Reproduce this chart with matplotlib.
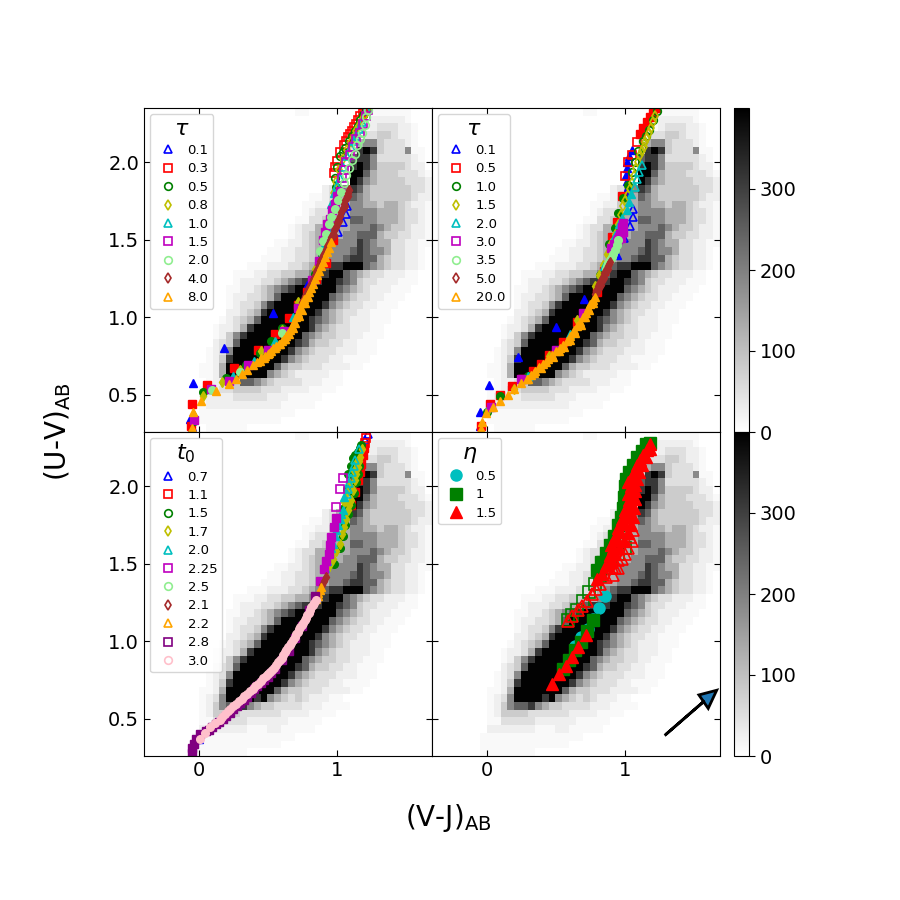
import numpy as np
from matplotlib import pyplot as plt

# density map, one string per row (top to bottom), digit = shade step
shade_counts = [0, 10, 25, 50, 80, 125, 185, 245, 310, 395]

rows_common = [
    "0000000000 0000000000 0011000000 0001111110 00",
    "0000000000 0000000000 0000000000 0002222210 00",
    "0000000000 0000000000 0000000000 0012333221 00",
    "0000000000 0000000000 0000000000 0033443221 00",
    "0000000000 0000000000 0000000000 2566433321 00",
    "0000000000 0000000000 0000000000 3898433361 10",
    "0000000000 0000000000 0000000000 7886333332 10",
    "0000000000 0000000000 0000000000 8986444432 20",
    "0000000000 0000000000 0000000000 9975444333 21",
    "0000000000 0000000000 0000000000 9865444433 32",
    "0000000000 0000000000 0000002356 8754444443 32",
    "0000000000 0000000000 0000112345 7654444443 22",
    "0000000000 0000000000 0001122445 6655455432 21",
    "0000000000 0000000000 0001233455 6666555433 21",
    "0000000000 0000000000 0011334555 7766555433 21",
    "0000000000 0000000000 0123355555 6667654432 21",
    "0000000000 0000000000 0123455556 6777544332 21",
    "0000000000 0000000001 1223455666 6876553322 11",
    "0000000000 0000000011 2233455666 7876653322 10",
    "0000000000 0000000111 2233455667 8877543322 10",
    "0000000000 0000011122 2334567889 9976543322 10",
    "0000000000 0001112233 4455678997 6543322211 00",
    "0000000000 0001222334 5678889987 6433222111 00",
    "0000000000 0011223456 7899999976 5432221110 00",
    "0000000000 0012233457 9999999765 4332211100 00",
    "0000000000 0012334689 9999998654 3322111000 00",
    "0000000000 0022345899 9999986543 3221110000 00",
    "0000000000 0123457999 9999876543 2221110000 00",
    "0000000000 1223589999 9999865433 2221100000 00",
    "0000000000 1246899999 9997654433 2211100000 00",
    "0000000000 2347999999 9987544332 2111000000 00",
    "0000000001 2369999999 9865433322 2111000000 00",
    "0000000001 2489999999 8654333221 1110000000 00",
    "0000000011 2599999997 5443332222 1100000000 00",
]
rows_upper_tail = [
    "0000000011 2599999965 4322222110 0000000000 00",
    "0000000001 2234776543 3332221110 0000000000 00",
    "0000000011 2334444333 2222111100 0000000000 00",
    "0000000012 2223333322 2111110000 0000000000 00",
    "0000000012 2222222222 1111100000 0000000000 00",
    "0000000011 1111111111 1100000000 0000000000 00",
    "0000000011 1111111111 0000000000 0000000000 00",
    "0000000001 1111100000 0000000000 0000000000 00",
]
rows_lower_tail = [
    "0000000012 3699998965 4343222110 0000000000 00",
    "0000000012 4677865443 3332221111 0000000000 00",
    "0000000012 4444333333 2222111100 0000000000 00",
    "0000000011 3333322222 2111110000 0000000000 00",
    "0000000022 2222211122 1111100000 0000000000 00",
    "0000000111 1111111111 1100000000 0000000000 00",
    "0000000111 1111111111 0000000000 0000000000 00",
    "0000000111 1111100000 0000000000 0000000000 00",
]

# panel 1, tau
p1_01_fill = [(-0.05, 0.29), (-0.065, 0.346), (-0.04, 0.576), (0.18, 0.80), (0.54, 1.03), (0.78, 1.21), (0.89, 1.37)]
p1_01_open = [(1.007, 1.55), (1.043, 1.615), (1.065, 1.665), (1.073, 1.716), (1.20, 2.33), (1.22, 2.35)]
p1_03_fill = [(-0.053, 0.297), (-0.046, 0.443), (0.06, 0.561), (0.253, 0.675), (0.429, 0.787), (0.554, 0.895),
              (0.653, 0.998), (0.72, 1.08), (0.78, 1.16), (0.85, 1.25), (0.923, 1.35), (0.971, 1.497)]
p1_03_open = [(0.98, 1.93), (0.985, 1.97), (1.0, 2.01), (1.02, 2.066), (1.05, 2.11), (1.065, 2.135), (1.08, 2.16), (1.095, 2.18),
              (1.11, 2.2), (1.125, 2.225), (1.14, 2.25), (1.155, 2.275), (1.17, 2.3), (1.185, 2.32), (1.2, 2.34)]
p1_05_fill = [(-0.03, 0.33), (0.033, 0.52), (0.195, 0.606), (0.34, 0.69), (0.44, 0.77), (0.526, 0.847), (0.60, 0.93), (0.72, 1.08),
              (0.84, 1.28), (0.89, 1.40), (0.94, 1.55), (0.97, 1.72), (0.99, 1.84)]
p1_05_open = [(0.985, 1.90), (1.0, 1.97), (1.02, 2.04), (1.04, 2.065), (1.06, 2.09), (1.09, 2.14), (1.11, 2.17), (1.13, 2.2),
              (1.15, 2.235), (1.17, 2.27), (1.19, 2.305), (1.21, 2.34)]
p1_08_fill = [(-0.03, 0.36), (0.03, 0.49), (0.17, 0.58), (0.30, 0.66), (0.45, 0.78), (0.6, 0.92), (0.72, 1.10),
              (0.84, 1.31), (0.89, 1.43), (0.93, 1.55), (0.95, 1.65), (0.97, 1.74)]
p1_08_open = [(0.98, 1.80), (0.995, 1.87), (1.015, 1.95), (1.04, 2.02), (1.07, 2.08), (1.10, 2.13), (1.12, 2.165), (1.14, 2.2),
              (1.16, 2.235), (1.18, 2.27), (1.20, 2.305), (1.22, 2.34)]
p1_10_fill = [(-0.03, 0.37), (0.1, 0.54), (0.25, 0.62), (0.4, 0.72), (0.55, 0.85), (0.68, 1.0), (0.78, 1.17),
              (0.88, 1.38), (0.91, 1.48), (0.94, 1.58), (0.95, 1.66), (0.96, 1.73), (0.98, 1.8)]
p1_10_open = [(1.0, 1.85), (1.02, 1.9), (1.04, 1.97), (1.07, 2.04), (1.10, 2.1), (1.12, 2.135), (1.14, 2.17), (1.16, 2.215), (1.18, 2.26), (1.22, 2.34)]
p1_15_fill = [(-0.035, 0.34), (0.09, 0.54), (0.22, 0.59), (0.36, 0.69), (0.5, 0.79), (0.62, 0.91), (0.72, 1.06),
              (0.82, 1.24), (0.87, 1.36), (0.90, 1.497), (0.911, 1.55), (0.93, 1.6), (0.947, 1.637), (0.965, 1.69),
              (0.983, 1.733), (1.0, 1.78), (1.02, 1.815)]
p1_15_open = [(1.035, 1.90), (1.05, 1.95), (1.068, 2.0), (1.097, 2.045), (1.116, 2.10), (1.14, 2.15), (1.164, 2.19), (1.188, 2.25),
              (1.21, 2.30), (1.225, 2.34)]
p1_20_fill = [(0.1, 0.53), (0.3, 0.65), (0.6, 0.9), (0.875, 1.43), (0.90, 1.49), (0.92, 1.54), (0.94, 1.60), (0.96, 1.647), (0.985, 1.70),
              (1.006, 1.755), (1.03, 1.81)]
p1_20_open = [(1.048, 1.867), (1.068, 1.916), (1.087, 1.961), (1.106, 2.013), (1.128, 2.056), (1.145, 2.11),
              (1.164, 2.15), (1.184, 2.19), (1.2, 2.24), (1.213, 2.29), (1.225, 2.34)]
p1_40_fill = [(0.75, 1.10), (0.76, 1.12), (0.77, 1.14), (0.78, 1.16), (0.79, 1.18), (0.80, 1.195), (0.81, 1.21), (0.82, 1.23), (0.83, 1.25),
              (0.84, 1.275), (0.85, 1.30), (0.86, 1.32), (0.87, 1.34), (0.88, 1.36), (0.89, 1.38), (0.90, 1.40), (0.91, 1.42), (0.92, 1.44),
              (0.93, 1.46), (0.94, 1.48), (0.95, 1.50), (0.96, 1.52), (0.97, 1.54), (0.98, 1.56), (0.99, 1.58), (1.0, 1.605), (1.01, 1.63),
              (1.02, 1.655), (1.03, 1.68), (1.04, 1.705), (1.05, 1.73), (1.06, 1.755), (1.07, 1.78), (1.08, 1.80), (1.09, 1.82),
              (0.775, 1.13), (0.815, 1.20), (0.855, 1.28), (0.895, 1.37), (0.935, 1.45), (0.975, 1.53), (1.015, 1.62), (1.055, 1.72), (1.08, 1.78)]
p1_80_fill = [(-0.048, 0.284), (-0.041, 0.39), (0.014, 0.46), (0.123, 0.525), (0.219, 0.572), (0.27, 0.605),
              (0.31, 0.635), (0.35, 0.66), (0.39, 0.69), (0.42, 0.71), (0.45, 0.735), (0.48, 0.75), (0.50, 0.765),
              (0.52, 0.785), (0.54, 0.80), (0.56, 0.815), (0.58, 0.83), (0.60, 0.845), (0.615, 0.86), (0.63, 0.88),
              (0.645, 0.90), (0.66, 0.92), (0.675, 0.945), (0.69, 0.97), (0.705, 1.00), (0.72, 1.03), (0.735, 1.06),
              (0.75, 1.09), (0.765, 1.115), (0.78, 1.14), (0.795, 1.165), (0.81, 1.19), (0.825, 1.215), (0.84, 1.245),
              (0.855, 1.27), (0.87, 1.30), (0.885, 1.33), (0.90, 1.355), (0.915, 1.39), (0.93, 1.42), (0.945, 1.45),
              (0.96, 1.485),
              (0.44, 0.715), (0.47, 0.74), (0.51, 0.77), (0.55, 0.80), (0.59, 0.83), (0.625, 0.86), (0.655, 0.895), (0.68, 0.93),
              (0.70, 0.965), (0.725, 1.01), (0.745, 1.05), (0.77, 1.09), (0.79, 1.13)]

# panel 2, tau
p2_01_fill = [(-0.045, 0.30), (-0.048, 0.39), (0.019, 0.56), (0.229, 0.742), (0.503, 0.938), (0.704, 1.12), (0.94, 1.40),
              (1.03, 1.80), (1.02, 1.84), (1.015, 1.88), (1.01, 1.92), (1.012, 1.96), (1.018, 2.0), (1.03, 2.04), (1.05, 2.08)]
p2_01_open = [(0.993, 1.51), (1.034, 1.59), (1.056, 1.65), (1.06, 1.70)]
p2_05_fill = [(-0.04, 0.30), (0.024, 0.44), (0.1, 0.497), (0.18, 0.555), (0.253, 0.605), (0.333, 0.653), (0.393, 0.70),
              (0.453, 0.755), (0.55, 0.84), (0.65, 0.97), (0.795, 1.163), (0.85, 1.3), (0.904, 1.52), (0.94, 1.617),
              (0.976, 1.785), (1.108, 2.18), (1.13, 2.22), (1.157, 2.26), (1.18, 2.29), (1.205, 2.32), (1.225, 2.35)]
p2_05_open = [(1.0, 1.91), (1.02, 2.0), (1.048, 2.05), (1.088, 2.13)]
p2_10_fill = [(0.0, 0.39), (0.1, 0.49), (0.3, 0.62), (0.5, 0.79), (0.7, 1.03), (0.82, 1.27), (0.887, 1.471),
              (0.928, 1.574), (0.952, 1.67), (0.988, 1.768), (1.024, 1.854)]
p2_10_open = [(1.048, 1.94), (1.072, 2.004), (1.096, 2.07), (1.133, 2.135), (1.155, 2.17), (1.176, 2.208), (1.20, 2.27), (1.229, 2.33)]
p2_15_fill = [(0.01, 0.4), (0.2, 0.54), (0.45, 0.75), (0.65, 0.98), (0.78, 1.2), (0.81, 1.27), (0.84, 1.34), (0.87, 1.41), (0.9, 1.48), (0.925, 1.54), (0.95, 1.6)]
p2_15_open = [(0.97, 1.66), (0.986, 1.716), (1.0, 1.75), (1.02, 1.79), (1.035, 1.83), (1.048, 1.865), (1.065, 1.91), (1.08, 1.96), (1.095, 2.0), (1.108, 2.047),
              (1.12, 2.075), (1.135, 2.1), (1.148, 2.13), (1.161, 2.155), (1.175, 2.19), (1.19, 2.22), (1.205, 2.26), (1.22, 2.3)]
p2_20_fill = [(0.02, 0.42), (0.3, 0.62), (0.6, 0.89), (0.85, 1.33), (0.93, 1.53), (0.96, 1.6), (0.98, 1.64),
              (1.012, 1.692), (1.029, 1.742), (1.043, 1.794)]
p2_20_open = [(1.072, 1.843), (1.089, 1.89), (1.10, 1.94), (1.12, 1.98)]
p2_30_fill = [(0.03, 0.42), (0.25, 0.60), (0.5, 0.79), (0.7, 1.03), (0.9, 1.45), (0.92, 1.47), (0.94, 1.49), (0.95, 1.505), (0.959, 1.52),
              (0.967, 1.54), (0.976, 1.563), (0.982, 1.585), (0.988, 1.606), (0.97, 1.51), (0.985, 1.55)]
p2_35_fill = [(0.86, 1.31), (0.87, 1.33), (0.88, 1.348), (0.892, 1.37), (0.904, 1.392), (0.916, 1.41), (0.928, 1.434), (0.94, 1.467), (0.952, 1.50)]
p2_50_fill = [(0.783, 1.153), (0.79, 1.17), (0.80, 1.185), (0.807, 1.20), (0.815, 1.215), (0.822, 1.228), (0.83, 1.24), (0.838, 1.255), (0.845, 1.27),
              (0.852, 1.285), (0.86, 1.30), (0.867, 1.315), (0.875, 1.33), (0.883, 1.345), (0.892, 1.357), (0.80, 1.165), (0.825, 1.21), (0.85, 1.255), (0.875, 1.31)]
p2_200_fill = [(-0.043, 0.28), (-0.036, 0.325), (-0.005, 0.38), (0.048, 0.42), (0.10, 0.46), (0.154, 0.497), (0.20, 0.535),
               (0.25, 0.575), (0.289, 0.605), (0.32, 0.63), (0.35, 0.655), (0.38, 0.68), (0.409, 0.70), (0.44, 0.73),
               (0.47, 0.755), (0.50, 0.78), (0.53, 0.80), (0.554, 0.82), (0.58, 0.85), (0.605, 0.88), (0.63, 0.915),
               (0.655, 0.945), (0.675, 0.97), (0.695, 1.0), (0.715, 1.03), (0.735, 1.06), (0.75, 1.085), (0.767, 1.11), (0.783, 1.13),
               (0.30, 0.60), (0.34, 0.64), (0.39, 0.67), (0.43, 0.71), (0.48, 0.745), (0.52, 0.78), (0.56, 0.81), (0.60, 0.855), (0.64, 0.90),
               (0.68, 0.95), (0.71, 1.00), (0.74, 1.045), (0.77, 1.09)]

# panel 3, t0
p3_07_fill = [(-0.05, 0.28), (0.0, 0.37), (0.3, 0.6)]
p3_07_open = [(1.205, 2.30), (1.224, 2.335)]
p3_11_fill = [(1.10, 1.88), (1.13, 1.96), (1.152, 2.04), (1.165, 2.09), (1.176, 2.146), (1.185, 2.2), (1.195, 2.25)]
p3_11_open = [(1.2, 2.28), (1.21, 2.31)]
p3_15_fill = [(0.98, 1.50), (1.02, 1.60), (1.04, 1.68), (1.056, 1.748), (1.08, 1.82), (1.10, 1.88), (1.12, 1.955), (1.14, 2.03), (1.15, 2.08), (1.16, 2.13),
              (1.05, 1.86), (1.07, 1.98), (1.08, 2.08), (1.10, 2.13), (1.115, 2.18), (1.13, 2.20), (1.15, 2.22), (1.165, 2.25), (1.176, 2.265)]
p3_17_fill = [(0.93, 1.46), (0.95, 1.50), (0.97, 1.53), (0.995, 1.58), (1.02, 1.63), (1.035, 1.69), (1.05, 1.74), (1.065, 1.79), (1.08, 1.845),
              (1.09, 1.88), (1.10, 1.91), (1.116, 1.974), (1.13, 2.04), (1.14, 2.08), (1.152, 2.125), (1.16, 2.16), (1.17, 2.19), (1.184, 2.24),
              (1.05, 1.90), (1.075, 1.96), (1.09, 2.02), (1.12, 2.10), (1.14, 2.15)]
p3_20_fill = [(0.91, 1.47), (0.925, 1.52), (0.94, 1.56), (0.955, 1.60), (0.97, 1.63), (0.985, 1.68), (0.995, 1.716), (1.01, 1.75), (1.02, 1.79), (1.03, 1.82), (1.04, 1.85), (1.05, 1.93)]
p3_20_open = [(1.07, 1.95), (1.08, 1.985), (1.09, 2.02), (1.10, 2.055), (1.11, 2.09), (1.12, 2.13), (1.13, 2.17), (1.16, 2.24)]
p3_225_fill = [(0.88, 1.39), (0.906, 1.469), (0.92, 1.52), (0.94, 1.566), (0.95, 1.62), (0.96, 1.673), (0.98, 1.74), (0.995, 1.798)]
p3_225_open = [(0.995, 1.863), (1.02, 1.983), (1.043, 2.056)]
p3_25_fill = [(0.2, 0.52), (0.5, 0.79)]
p3_21_fill = [(0.89, 1.36), (0.905, 1.39), (0.918, 1.415)]
p3_22_fill = [(0.85, 1.27), (0.86, 1.295), (0.865, 1.31), (0.875, 1.33), (0.887, 1.35)]
p3_28_fill = [(-0.05, 0.28), (-0.045, 0.31), (-0.035, 0.34), (-0.02, 0.37), (0.01, 0.40), (0.05, 0.42), (0.075, 0.43), (0.10, 0.45), (0.125, 0.465),
              (0.15, 0.48), (0.175, 0.50), (0.2, 0.52), (0.225, 0.54), (0.25, 0.56), (0.275, 0.58), (0.3, 0.60), (0.325, 0.62), (0.35, 0.64), (0.375, 0.665),
              (0.4, 0.69), (0.425, 0.71), (0.45, 0.73), (0.475, 0.75), (0.5, 0.77), (0.525, 0.795),
              (0.55, 0.82), (0.6, 0.88), (0.65, 0.94), (0.7, 1.02), (0.75, 1.10), (0.8, 1.2), (0.84, 1.29)]
p3_30_fill = [(0.007, 0.372), (0.045, 0.41), (0.08, 0.447), (0.115, 0.47), (0.152, 0.49), (0.17, 0.51), (0.19, 0.53), (0.21, 0.548), (0.23, 0.565), (0.25, 0.58),
              (0.272, 0.598), (0.29, 0.615), (0.31, 0.63), (0.33, 0.645), (0.35, 0.66), (0.37, 0.68), (0.393, 0.695), (0.41, 0.71), (0.43, 0.725), (0.45, 0.745),
              (0.465, 0.76), (0.485, 0.775), (0.501, 0.79), (0.515, 0.80), (0.53, 0.815), (0.545, 0.83), (0.56, 0.85), (0.575, 0.865), (0.586, 0.877), (0.60, 0.895),
              (0.61, 0.91), (0.622, 0.93), (0.635, 0.945), (0.648, 0.96), (0.66, 0.975), (0.67, 0.99), (0.682, 1.006), (0.695, 1.025),
              (0.705, 1.045), (0.715, 1.06), (0.725, 1.08), (0.735, 1.09), (0.745, 1.105), (0.755, 1.12), (0.766, 1.135), (0.775, 1.15), (0.785, 1.17), (0.795, 1.185),
              (0.805, 1.205), (0.815, 1.22), (0.825, 1.235), (0.835, 1.25), (0.846, 1.269)]

# panel 4, eta
p4_05_fill = [(0.855, 1.292), (0.812, 1.215), (0.771, 1.146), (0.735, 1.082), (0.68, 1.028), (0.64, 0.97)]
p4_10_fill = [(0.77, 1.14), (0.723, 1.064), (0.682, 0.996), (0.638, 0.942), (0.597, 0.882), (0.549, 0.822),
              (0.80, 1.46), (0.83, 1.51), (0.86, 1.57), (0.89, 1.62), (0.92, 1.68), (0.95, 1.75), (0.97, 1.80), (0.985, 1.86), (0.995, 1.93), (1.0, 2.0), (1.005, 2.05),
              (1.03, 2.09), (1.06, 2.14), (1.09, 2.19), (1.12, 2.23), (1.15, 2.27), (1.18, 2.28)]
p4_10_open = [(0.59, 1.14), (0.62, 1.17), (0.65, 1.20), (0.70, 1.26), (0.74, 1.32), (0.78, 1.37), (0.82, 1.42),
              (0.86, 1.47), (0.90, 1.52), (0.95, 1.56), (1.0, 1.60)]
p4_15_fill = [(0.47, 0.727), (0.523, 0.787), (0.571, 0.841), (0.619, 0.899), (0.662, 0.963), (0.716, 1.043),
              (0.80, 1.40), (0.831, 1.437), (0.86, 1.49), (0.891, 1.555), (0.915, 1.60), (0.94, 1.652), (0.965, 1.705), (0.988, 1.759),
              (1.005, 1.80), (1.024, 1.866), (1.03, 1.91), (1.036, 1.955), (1.04, 2.0), (1.048, 2.039), (1.06, 2.07),
              (1.072, 2.103), (1.09, 2.135), (1.108, 2.168), (1.132, 2.20), (1.157, 2.232), (1.181, 2.271),
              (0.90, 1.51), (0.93, 1.56), (0.96, 1.60), (0.99, 1.65), (1.02, 1.70), (1.04, 1.75), (1.055, 1.80), (1.065, 1.86), (1.07, 1.92), (1.07, 1.97),
              (1.075, 2.01), (1.085, 2.05), (1.10, 2.09), (1.12, 2.14), (1.15, 2.19), (1.18, 2.24), (1.02, 1.95), (1.025, 2.03), (1.00, 1.85), (0.975, 1.79), (0.95, 1.73), (0.925, 1.67), (0.90, 1.62)]
p4_15_open = [(0.59, 1.131), (0.62, 1.16), (0.662, 1.20), (0.69, 1.23), (0.723, 1.26), (0.764, 1.308), (0.79, 1.34), (0.819, 1.372), (0.86, 1.415), (0.904, 1.48),
              (0.952, 1.523), (1.0, 1.566), (1.036, 1.673), (0.93, 1.47), (0.98, 1.53), (1.02, 1.60), (1.05, 1.65), (1.06, 1.72),
              (0.91, 1.43), (0.95, 1.47)]

tau_a_labels = ['0.1', '0.3', '0.5', '0.8', '1.0', '1.5', '2.0', '4.0', '8.0']
tau_b_labels = ['0.1', '0.5', '1.0', '1.5', '2.0', '3.0', '3.5', '5.0', '20.0']
t0_labels = ['0.7', '1.1', '1.5', '1.7', '2.0', '2.25', '2.5', '2.1', '2.2', '2.8', '3.0']
eta_labels = ['0.5', '1', '1.5']

colors = ['b', 'r', 'g', 'y', 'c', 'm', 'lightgreen', 'brown', 'orange', 'purple', 'pink']
markers = ['^', 's', 'o', 'd', '^', 's', 'o', 'd', '^', 's', 'o']

xlim = [-0.395, 1.687]
ylim = [0.26, 2.35]


def draw_series(ax, filled, opened, color, marker, label, ms=5.5):
    if filled:
        fx, fy = zip(*filled)
        ax.plot(fx, fy, ls='none', marker=marker, color=color, ms=ms)
    ox, oy = zip(*opened) if opened else ([], [])
    ax.plot(ox, oy, ls='none', marker=marker, mfc='none', mec=color, mew=1.2, ms=ms, label=label)


def panel_axes(col, row):
    ax = fig.add_axes([(144 + 288*col)/900, 1 - (432 + 324*row)/900, 288/900, 324/900])
    grid = rows_common + (rows_upper_tail if row == 0 else rows_lower_tail)
    counts = np.array([[shade_counts[int(c)] for c in r.replace(' ', '')] for r in grid])
    im = ax.imshow(counts, extent=xlim + ylim, aspect='auto', cmap='gray_r', vmin=0, vmax=400, interpolation='nearest')
    ax.set_xlim(xlim)
    ax.set_ylim(ylim)
    ax.set_xticks([0, 1])
    ax.set_yticks([0.5, 1.0, 1.5, 2.0])
    ax.tick_params(direction='in', top=True, right=True, labelsize=14, length=4,
                   labelbottom=row == 1, labelleft=col == 0)
    return ax, im


fig = plt.figure(figsize=(9, 9), dpi=100)

ax1, im1 = panel_axes(0, 0)
p1 = [(p1_01_fill, p1_01_open), (p1_03_fill, p1_03_open), (p1_05_fill, p1_05_open), (p1_08_fill, p1_08_open),
      (p1_10_fill, p1_10_open), (p1_15_fill, p1_15_open), (p1_20_fill, p1_20_open), (p1_40_fill, []), (p1_80_fill, [])]
for i, (f, o) in enumerate(p1):
    draw_series(ax1, f, o, colors[i], markers[i], tau_a_labels[i])

ax2, im2 = panel_axes(1, 0)
p2 = [(p2_01_fill, p2_01_open), (p2_05_fill, p2_05_open), (p2_10_fill, p2_10_open), (p2_15_fill, p2_15_open),
      (p2_20_fill, p2_20_open), (p2_30_fill, []), (p2_35_fill, []), (p2_50_fill, []), (p2_200_fill, [])]
for i, (f, o) in enumerate(p2):
    draw_series(ax2, f, o, colors[i], markers[i], tau_b_labels[i])

ax3, im3 = panel_axes(0, 1)
p3 = [(p3_07_fill, p3_07_open), (p3_11_fill, p3_11_open), (p3_15_fill, []), (p3_17_fill, []), (p3_20_fill, p3_20_open),
      (p3_225_fill, p3_225_open), (p3_25_fill, []), (p3_21_fill, []), (p3_22_fill, []), (p3_28_fill, []), (p3_30_fill, [])]
for i, (f, o) in enumerate(p3):
    draw_series(ax3, f, o, colors[i], markers[i], t0_labels[i])

ax4, im4 = panel_axes(1, 1)
eta_colors = ['c', 'g', 'r']
eta_markers = ['o', 's', '^']
p4 = [(p4_05_fill, []), (p4_10_fill, p4_10_open), (p4_15_fill, p4_15_open)]
for i, (f, o) in enumerate(p4):
    fx, fy = zip(*f)
    ax4.plot(fx, fy, ls='none', marker=eta_markers[i], color=eta_colors[i], ms=8, label=eta_labels[i])
    if o:
        ox, oy = zip(*o)
        ax4.plot(ox, oy, ls='none', marker=eta_markers[i], mfc='none', mec=eta_colors[i], mew=1.2, ms=8)
ax4.arrow(1.294, 0.398, 0.369, 0.286, head_width=0.11, head_length=0.12, length_includes_head=True,
          fc='C0', ec='k', lw=2)

for ax, title in [(ax1, r'$\tau$'), (ax2, r'$\tau$'), (ax3, r'$t_0$'), (ax4, r'$\eta$')]:
    leg = ax.legend(loc='upper left', title=title, fontsize=9.5, title_fontsize=16, labelspacing=0.41,
                    handletextpad=0.5, borderaxespad=0.45, borderpad=0.35)

cax1 = fig.add_axes([734/900, 1 - 432/900, 15/900, 324/900])
cax2 = fig.add_axes([734/900, 1 - 756/900, 15/900, 324/900])
for cax, im in [(cax1, im1), (cax2, im3)]:
    cb = fig.colorbar(im, cax=cax)
    cb.set_ticks([0, 100, 200, 300])
    cb.ax.tick_params(labelsize=14, length=4)

fig.text(448/900, 1 - 818/900, r'(V-J)$_{\mathrm{AB}}$', fontsize=20, ha='center', va='center')
fig.text(58/900, 1 - 432/900, r'(U-V)$_{\mathrm{AB}}$', fontsize=20, ha='center', va='center', rotation=90)

fig.savefig('out.png', dpi=100)
